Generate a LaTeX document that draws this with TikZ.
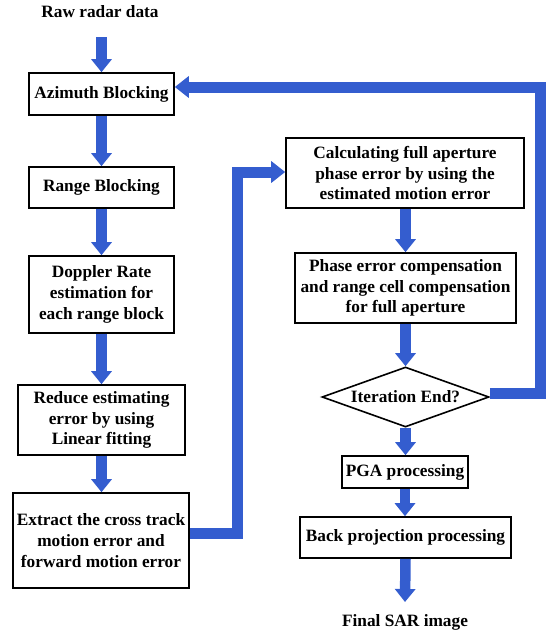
\documentclass[tikz,border=0pt]{standalone}
\usepackage{fontspec}
\setmainfont{Liberation Serif}
\usetikzlibrary{arrows.meta,shapes.geometric,calc}
\definecolor{flowblue}{RGB}{52,93,207}
\tikzset{
  box/.style={draw=black,line width=1.6pt,rectangle,inner sep=0pt,align=center,font=\bfseries\fontsize{17.3}{20.7}\selectfont},
  lbl/.style={inner sep=0pt,align=center,font=\bfseries\fontsize{17.3}{20.7}\selectfont},
  flow/.style={draw=flowblue,line width=10.5pt,-{Triangle[width=20pt,length=13pt]}},
  loop/.style={draw=flowblue,line width=11pt,line join=miter,-{Triangle[width=21pt,length=14pt]}}
}
\begin{document}
\begin{tikzpicture}[x=1pt,y=-1pt]
\useasboundingbox (0,0) rectangle (546,637);
\node[lbl] (raw) at (100,12) {Raw radar data};
\coordinate (rawend) at (101.5,37);
\node[box,minimum width=145pt,minimum height=42pt] (az) at (101.5,94) {Azimuth Blocking};
\node[box,minimum width=145pt,minimum height=41pt] (rb) at (101.5,187.5) {Range Blocking};
\node[box,minimum width=145pt,minimum height=77pt] (dop) at (101.5,294.5) {Doppler Rate\\estimation for\\each range block};
\node[box,minimum width=167pt,minimum height=70pt] (red) at (101.5,420) {Reduce estimating\\error by using\\Linear fitting};
\node[box,minimum width=176pt,minimum height=95pt] (ext) at (101,540.5) {Extract the cross track\\motion error and\\forward motion error};
\node[box,minimum width=238pt,minimum height=70pt] (calc) at (405,173) {Calculating full aperture\\phase error by using the\\estimated motion error};
\node[box,minimum width=221pt,minimum height=70pt] (pec) at (405.5,288) {Phase error compensation\\and range cell compensation\\for full aperture};
\node[draw=black,line width=1.6pt,diamond,aspect=2.8,inner sep=0pt,minimum width=167pt,minimum height=60pt,font=\bfseries\fontsize{17.3}{20.7}\selectfont] (dia) at (405.5,397) {Iteration End?};
\node[box,minimum width=126pt,minimum height=32pt] (pga) at (405,472) {PGA processing};
\node[box,minimum width=211pt,minimum height=41pt] (bp) at (405.5,537.5) {Back projection processing};
\node[lbl] (fin) at (405,622) {Final SAR image};
\coordinate (finend) at (405,602);
\draw[flow] (rawend) -- (az.north);
\draw[flow] (az) -- (rb);
\draw[flow] (rb) -- (dop);
\draw[flow] (dop.south -| red.north) -- (red.north);
\draw[flow] (red.south) -- (red.south |- ext.north);
\draw[flow] (calc.south -| pec.north) -- (pec.north);
\draw[flow] (pec.south) -- (dia.north);
\draw[flow] (dia.south) -- (dia.south |- pga.north);
\draw[flow] (pga.south) -- (pga.south |- bp.north);
\draw[flow] (bp.south) -- (finend);
\draw[loop] ($(ext.east)+(0,-7)$) -| (237.5,172) -- (calc.west |- 0,172);
\draw[loop] ($(dia.east)+(0,-4)$) -| (540.5,87) -- (az.east |- 0,87);
\end{tikzpicture}
\end{document}
